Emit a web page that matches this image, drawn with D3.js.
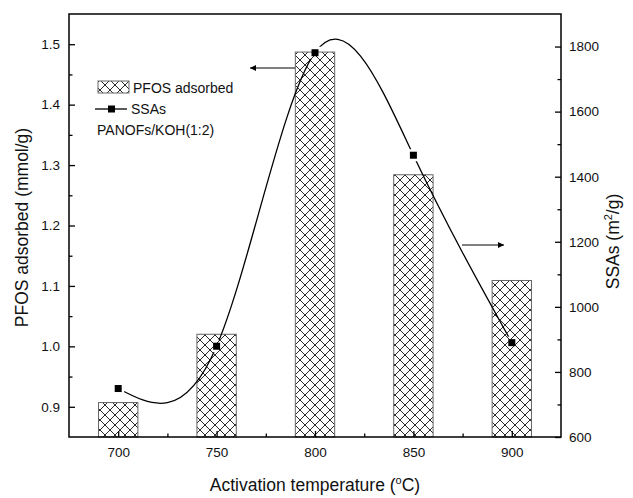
<!DOCTYPE html>
<html><head><meta charset="utf-8">
<script src="https://cdn.jsdelivr.net/npm/d3@7"></script>
<style>
body{margin:0;background:#fff;}
svg{display:block;font-family:"Liberation Sans",Arial,sans-serif;}
</style></head>
<body><svg id="c" width="633" height="498"></svg>
<script>
const temperatures = [700, 750, 800, 850, 900];
const pfosAdsorbed = [0.907, 1.020, 1.487, 1.284, 1.109];
const ssas = [749, 879, 1781, 1466, 890];
const xTicks = [700, 750, 800, 850, 900];
const xMinor = [725, 775, 825, 875];
const leftTicks = [0.9, 1.0, 1.1, 1.2, 1.3, 1.4, 1.5];
const leftMinor = [0.95, 1.05, 1.15, 1.25, 1.35, 1.45];
const rightTicks = [600, 800, 1000, 1200, 1400, 1600, 1800];
const rightMinor = [700, 900, 1100, 1300, 1500, 1700];

const svg = d3.select("#c");
const L = 69, R = 561, T = 14, B = 437;
const x = d3.scaleLinear().domain([675, 925]).range([L, R]);
const yL = d3.scaleLinear().domain([0.85, 1.55]).range([B, T]);
const yR = d3.scaleLinear().domain([600, 1900]).range([B, T]);

const defs = svg.append("defs");
const pat = defs.append("pattern").attr("id", "hatch").attr("patternUnits", "userSpaceOnUse")
  .attr("width", 10).attr("height", 10);
pat.append("rect").attr("width", 10).attr("height", 10).attr("fill", "#fff");
pat.append("path").attr("d", "M0,0L10,10M10,0L0,10M-5,5L5,-5M5,15L15,5M-5,5L5,15M5,-5L15,5")
  .attr("stroke", "#2a2a2a").attr("stroke-width", 1);
const arrow = defs.append("marker").attr("id", "arr").attr("viewBox", "0 0 10 10")
  .attr("refX", 10).attr("refY", 5).attr("markerWidth", 10).attr("markerHeight", 6)
  .attr("markerUnits", "userSpaceOnUse").attr("orient", "auto");
arrow.append("path").attr("d", "M0,0L10,5L0,10Z").attr("fill", "#000");

// bars
const bw = x(710) - x(690);
svg.append("g").selectAll("rect").data(temperatures).join("rect")
  .attr("x", (d) => x(d) - bw / 2).attr("width", bw)
  .attr("y", (d, i) => yL(pfosAdsorbed[i])).attr("height", (d, i) => B - yL(pfosAdsorbed[i]))
  .attr("fill", "url(#hatch)").attr("stroke", "#666").attr("stroke-width", 1);

// line mask (gaps around symbols)
const mask = defs.append("mask").attr("id", "gap").attr("maskUnits", "userSpaceOnUse")
  .attr("x", 0).attr("y", 0).attr("width", 633).attr("height", 498);
mask.append("rect").attr("width", 633).attr("height", 498).attr("fill", "#fff");
mask.selectAll("rect.g").data(temperatures).join("rect").attr("class", "g")
  .attr("x", (d) => x(d) - 6).attr("y", (d, i) => yR(ssas[i]) - 6)
  .attr("width", 12).attr("height", 12).attr("fill", "#000");

const pts = temperatures.map((t, i) => [x(t), yR(ssas[i])]);
svg.append("path").attr("d", d3.line().curve(d3.curveNatural)(pts))
  .attr("fill", "none").attr("stroke", "#000").attr("stroke-width", 1.3).attr("mask", "url(#gap)");
svg.append("g").selectAll("rect").data(temperatures).join("rect")
  .attr("x", (d) => x(d) - 3.5).attr("y", (d, i) => yR(ssas[i]) - 3.5)
  .attr("width", 7).attr("height", 7).attr("fill", "#000");

// arrows
svg.append("line").attr("x1", 295).attr("y1", 68).attr("x2", 250).attr("y2", 68)
  .attr("stroke", "#000").attr("stroke-width", 1).attr("marker-end", "url(#arr)");
svg.append("line").attr("x1", 462).attr("y1", 245).attr("x2", 504).attr("y2", 245)
  .attr("stroke", "#000").attr("stroke-width", 1).attr("marker-end", "url(#arr)");

// axes
function styleAxis(g) {
  g.select(".domain").remove();
  g.selectAll(".tick line").attr("stroke", "#000").attr("stroke-width", 1.3);
  g.selectAll("text").attr("font-size", 13.5).attr("fill", "#111")
    .attr("font-family", "'Liberation Sans',Arial,sans-serif");
}
svg.append("g").attr("transform", `translate(0,${B})`)
  .call(d3.axisBottom(x).tickValues(xTicks).tickSize(-6).tickPadding(10).tickFormat(d3.format("d"))).call(styleAxis);
svg.append("g").attr("transform", `translate(0,${B})`)
  .call(d3.axisBottom(x).tickValues(xMinor).tickSize(-3.5).tickFormat("")).call(styleAxis);
svg.append("g").attr("transform", `translate(${L},0)`)
  .call(d3.axisLeft(yL).tickValues(leftTicks).tickSize(-6).tickPadding(9).tickFormat(d3.format(".1f"))).call(styleAxis);
svg.append("g").attr("transform", `translate(${L},0)`)
  .call(d3.axisLeft(yL).tickValues(leftMinor).tickSize(-3.5).tickFormat("")).call(styleAxis);
svg.append("g").attr("transform", `translate(${R},0)`)
  .call(d3.axisRight(yR).tickValues(rightTicks).tickSize(-6).tickPadding(8).tickFormat(d3.format("d"))).call(styleAxis);
svg.append("g").attr("transform", `translate(${R},0)`)
  .call(d3.axisRight(yR).tickValues(rightMinor).tickSize(-3.5).tickFormat("")).call(styleAxis);

svg.append("rect").attr("x", L).attr("y", T).attr("width", R - L).attr("height", B - T)
  .attr("fill", "none").attr("stroke", "#000").attr("stroke-width", 1.5);

// titles
const xt = svg.append("text").attr("x", (L + R) / 2).attr("y", 491).attr("text-anchor", "middle")
  .attr("font-size", 17.5).attr("fill", "#111");
xt.append("tspan").text("Activation temperature (");
xt.append("tspan").attr("font-size", 11).attr("dy", -7).text("o");
xt.append("tspan").attr("dy", 7).text("C)");

svg.append("text").attr("transform", `translate(28,${(T + B) / 2 + 2}) rotate(-90)`)
  .attr("text-anchor", "middle").attr("font-size", 17.5).attr("fill", "#111").text("PFOS adsorbed (mmol/g)");
const rt = svg.append("text").attr("transform", `translate(619,${(T + B) / 2 + 16}) rotate(-90)`)
  .attr("text-anchor", "middle").attr("font-size", 17.5).attr("fill", "#111");
rt.append("tspan").text("SSAs (m");
rt.append("tspan").attr("font-size", 11).attr("dy", -7).text("2");
rt.append("tspan").attr("dy", 7).text("/g)");

// legend
svg.append("rect").attr("x", 98).attr("y", 81).attr("width", 31).attr("height", 12)
  .attr("fill", "url(#hatch)").attr("stroke", "#666").attr("stroke-width", 1);
svg.append("text").attr("x", 133).attr("y", 93).attr("font-size", 14).attr("fill", "#111").text("PFOS adsorbed");
svg.append("line").attr("x1", 95).attr("x2", 127).attr("y1", 109).attr("y2", 109).attr("stroke", "#000").attr("stroke-width", 1.3);
svg.append("rect").attr("x", 108).attr("y", 105.5).attr("width", 7).attr("height", 7).attr("fill", "#000");
svg.append("text").attr("x", 131).attr("y", 114).attr("font-size", 14).attr("fill", "#111").text("SSAs");
svg.append("text").attr("x", 97).attr("y", 134.5).attr("font-size", 14).attr("fill", "#111").text("PANOFs/KOH(1:2)");
</script></body></html>
